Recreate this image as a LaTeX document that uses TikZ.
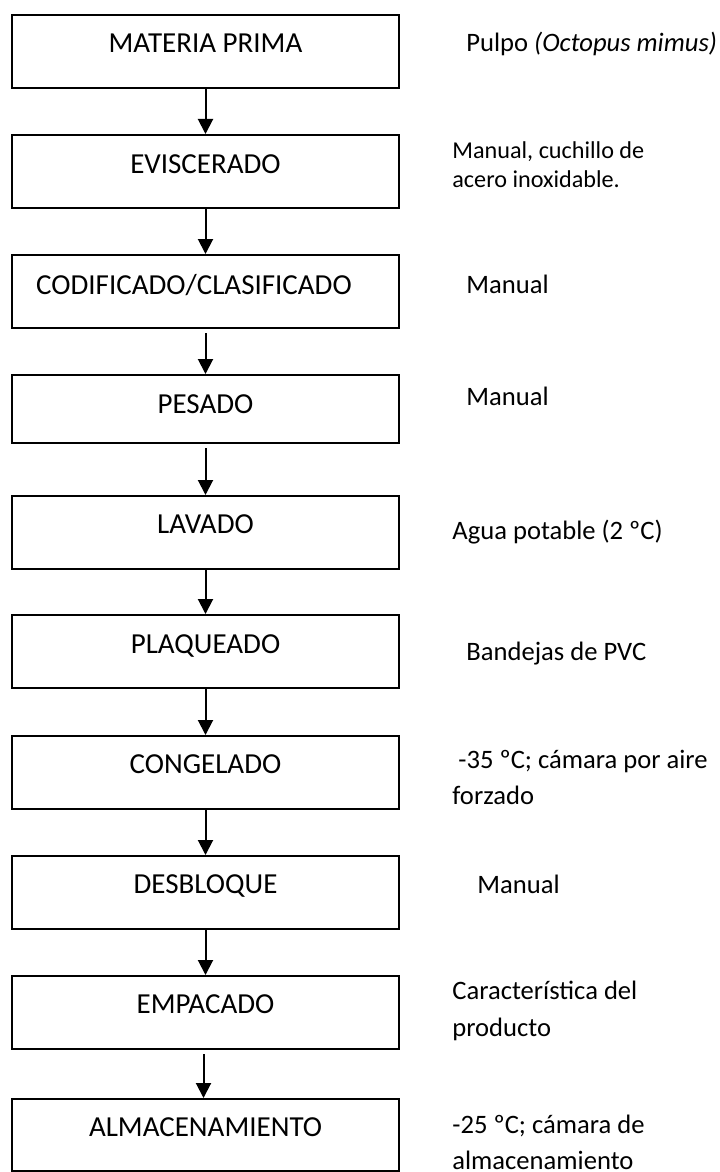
\documentclass[tikz,border=0pt]{standalone}
\usepackage{fontspec}
\setmainfont{Carlito}
\usetikzlibrary{arrows.meta}
\begin{document}
\begin{tikzpicture}[x=0.5pt,y=-0.5pt,
  stepbox/.style={draw=black,line width=1pt,rectangle,minimum width=193.5pt,minimum height=36.5pt,inner sep=0pt,anchor=north},
  boxtext/.style={inner sep=0pt,anchor=base,font=\fontsize{14.5}{17}\selectfont},
  note/.style={inner sep=0pt,anchor=base west,font=\fontsize{13.3}{16}\selectfont},
  smallnote/.style={inner sep=0pt,anchor=base west,font=\fontsize{12.1}{14.5}\selectfont},
  arr/.style={line width=1pt,-{Triangle[length=7.5pt,width=7.5pt]}}]
\useasboundingbox (0,0) rectangle (719,1172);
% boxes
\node[stepbox] (b1) at (205.5,14) {};
\node[stepbox] (b2) at (205.5,134) {};
\node[stepbox] (b3) at (205.5,254) {};
\node[stepbox,minimum height=34pt] (b4) at (205.5,374) {};
\node[stepbox] (b5) at (205.5,495) {};
\node[stepbox] (b6) at (205.5,614) {};
\node[stepbox] (b7) at (205.5,735) {};
\node[stepbox] (b8) at (205.5,855) {};
\node[stepbox] (b9) at (205.5,975) {};
\node[stepbox,minimum height=36pt] (b10) at (205.5,1098) {};
% box texts
\node[boxtext] (t1) at (205.5,53) {MATERIA PRIMA};
\node[boxtext] (t2) at (205.5,173) {EVISCERADO};
\node[boxtext] (t3) at (194,294) {CODIFICADO/CLASIFICADO};
\node[boxtext] (t4) at (205.5,413) {PESADO};
\node[boxtext] (t5) at (205.5,533) {LAVADO};
\node[boxtext] (t6) at (205.5,653) {PLAQUEADO};
\node[boxtext] (t7) at (205.5,773) {CONGELADO};
\node[boxtext] (t8) at (205.5,893) {DESBLOQUE};
\node[boxtext] (t9) at (205.5,1013) {EMPACADO};
\node[boxtext] (t10) at (205.5,1136) {ALMACENAMIENTO};
% side notes
\node[note] (n1) at (466,52) {Pulpo \textit{(Octopus mimus)}};
\node[smallnote] (n2a) at (452,158) {Manual, cuchillo de};
\node[smallnote] (n2b) at (452,187) {acero inoxidable.};
\node[note] (n3) at (466,293) {Manual};
\node[note] (n4) at (466,405) {Manual};
\node[note] (n5) at (452,539) {Agua potable (2 ºC)};
\node[note] (n6) at (466,660) {Bandejas de PVC};
\node[note] (n7a) at (458,768) {-35 ºC; cámara por aire};
\node[note] (n7b) at (452,804) {forzado};
\node[note] (n8) at (477,893) {Manual};
\node[note] (n9a) at (452,999) {Característica del};
\node[note] (n9b) at (452,1036) {producto};
\node[note] (n10a) at (452,1133) {-25 ºC; cámara de};
\node[note] (n10b) at (452,1169) {almacenamiento};
% arrows
\draw[arr] (b1.south) -- (b2.north);
\draw[arr] (b2.south) -- (b3.north);
\draw[arr] ([yshift=-2pt]b3.south) -- (b4.north);
\draw[arr] ([yshift=-2pt]b4.south) -- (b5.north);
\draw[arr] (b5.south) -- (b6.north);
\draw[arr] (b6.south) -- (b7.north);
\draw[arr] (b7.south) -- (b8.north);
\draw[arr] (b8.south) -- (b9.north);
\draw[arr] ([xshift=-1pt,yshift=-2pt]b9.south) -- ([xshift=-1pt]b10.north);
\end{tikzpicture}
\end{document}
